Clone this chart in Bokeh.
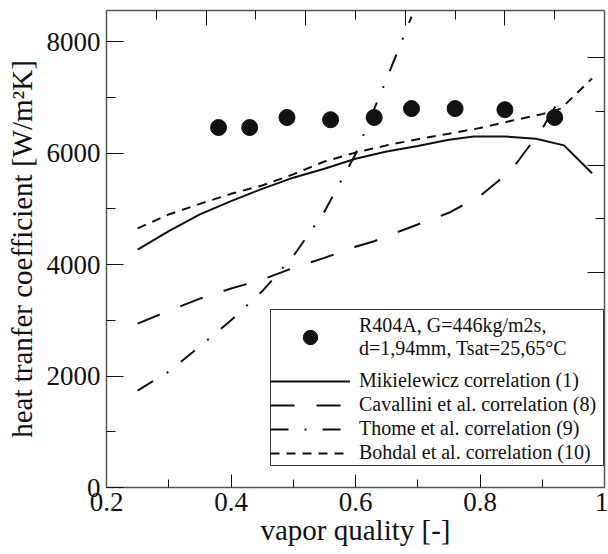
from bokeh.plotting import figure
from bokeh.models import (Range1d, LinearAxis, FixedTicker, CustomJSTickFormatter,
                          Legend, LegendItem, BoxAnnotation)
from bokeh.embed import file_html
from bokeh.resources import INLINE

# ---- data ----
exp_x = [0.38, 0.43, 0.49, 0.56, 0.63, 0.69, 0.76, 0.84, 0.92]
exp_y = [6460, 6460, 6640, 6600, 6640, 6800, 6800, 6780, 6640]

mik_x = [0.25, 0.30, 0.35, 0.40, 0.45, 0.50, 0.55, 0.60, 0.65, 0.70, 0.75, 0.79, 0.84, 0.89, 0.935, 0.98]
mik_y = [4270, 4600, 4900, 5140, 5360, 5560, 5720, 5900, 6030, 6130, 6240, 6300, 6300, 6260, 6140, 5640]

cav_x = [0.25, 0.30, 0.35, 0.40, 0.45, 0.50, 0.55, 0.60, 0.63, 0.65, 0.70, 0.75, 0.80, 0.85, 0.90, 0.935]
cav_y = [2940, 3170, 3390, 3570, 3730, 3940, 4120, 4320, 4420, 4510, 4720, 4930, 5230, 5690, 6440, 7100]

tho_x = [0.25, 0.30, 0.35, 0.40, 0.45, 0.50, 0.55, 0.60, 0.65, 0.69]
tho_y = [1740, 2080, 2530, 3000, 3520, 4150, 4950, 5980, 7330, 8450]

boh_x = [0.25, 0.30, 0.35, 0.40, 0.45, 0.50, 0.55, 0.60, 0.65, 0.70, 0.75, 0.80, 0.85, 0.90, 0.93, 0.98]
boh_y = [4650, 4900, 5090, 5270, 5420, 5620, 5850, 6010, 6140, 6250, 6350, 6450, 6580, 6700, 6800, 7340]

x_major = [0.2, 0.4, 0.6, 0.8, 1.0]
x_minor = [0.3, 0.5, 0.7, 0.9]
y_major = [0, 2000, 4000, 6000, 8000]
y_minor = [1000, 3000, 5000, 7000]
top_major = [0.36, 0.52, 0.68, 0.84]
top_minor = [0.28, 0.44, 0.60, 0.76, 0.92]
right_major = [1928, 3856, 5784, 7712]
right_minor = [964, 2892, 4820, 6748]

exp_label = "R404A, G=446kg/m2s,\nd=1,94mm, Tsat=25,65°C"
labels = ["Mikielewicz correlation (1)", "Cavallini et al. correlation (8)",
          "Thome et al. correlation (9)", "Bohdal et al. correlation (10)"]

FONT = "Liberation Serif"
INK = "#111111"
AXC = "#555555"

p = figure(width=608, height=554, output_backend="svg", toolbar_location=None,
           x_range=Range1d(0.2, 1.0), y_range=Range1d(0, 8560),
           min_border_left=106, min_border_right=4, min_border_top=10, min_border_bottom=67)
p.outline_line_color = None
p.xgrid.visible = False
p.ygrid.visible = False
p.background_fill_color = "white"


def style_axis(ax, tin, mtin, labels_on=True):
    ax.axis_line_color = AXC
    ax.axis_line_width = 1.5
    ax.major_tick_in = tin
    ax.major_tick_out = 0
    ax.minor_tick_in = mtin
    ax.minor_tick_out = 0
    ax.major_tick_line_color = INK
    ax.minor_tick_line_color = INK
    ax.major_tick_line_width = 1
    ax.minor_tick_line_width = 1
    if labels_on:
        ax.major_label_text_font = FONT
        ax.major_label_text_font_size = "27px"
        ax.major_label_text_color = INK
        ax.axis_label_text_font = FONT
        ax.axis_label_text_font_size = "29px"
        ax.axis_label_text_font_style = "normal"
        ax.axis_label_text_color = INK
    else:
        ax.formatter = CustomJSTickFormatter(code="return ''")
        ax.major_label_text_font_size = "1px"
        ax.major_label_standoff = 0


xa = p.xaxis[0]
xa.ticker = FixedTicker(ticks=x_major, minor_ticks=x_minor)
xa.axis_label = "vapor quality [-]"
style_axis(xa, 13, 8)
xa.major_label_standoff = 5
xa.axis_label_standoff = 0

ya = p.yaxis[0]
ya.ticker = FixedTicker(ticks=y_major, minor_ticks=y_minor)
ya.axis_label = "heat tranfer coefficient [W/m²K]"
style_axis(ya, 17, 9)
ya.major_label_standoff = 6
ya.axis_label_standoff = 6

top = LinearAxis(ticker=FixedTicker(ticks=top_major, minor_ticks=top_minor))
style_axis(top, 15, 9, labels_on=False)
p.add_layout(top, "above")

right = LinearAxis(ticker=FixedTicker(ticks=right_major, minor_ticks=right_minor))
style_axis(right, 17, 9, labels_on=False)
p.add_layout(right, "right")

r_mik = p.line(mik_x, mik_y, line_color=INK, line_width=2)
r_cav = p.line(cav_x, cav_y, line_color=INK, line_width=2, line_dash="24 22")
r_tho = p.line(tho_x, tho_y, line_color=INK, line_width=2, line_dash="18 16 2 16")
r_boh = p.line(boh_x, boh_y, line_color=INK, line_width=2, line_dash="9 7")
r_exp = p.scatter(exp_x, exp_y, marker="circle", size=16, fill_color=INK, line_color=INK)

box = BoxAnnotation(left=164, right=497, bottom=22, top=178,
                    left_units="screen", right_units="screen",
                    bottom_units="screen", top_units="screen",
                    fill_color="white", fill_alpha=1.0,
                    line_color="#333333", line_width=1, line_alpha=1.0)
p.add_layout(box)

common = dict(glyph_width=80, label_height=20, padding=0, margin=0,
              label_standoff=9, border_line_color=None, background_fill_alpha=0,
              label_text_font=FONT, label_text_font_size="20px",
              label_text_font_style="normal", label_text_color=INK)

leg_exp = Legend(items=[LegendItem(label=exp_label, renderers=[r_exp])],
                 location=(164, 127), glyph_height=36, spacing=0,
                 label_text_line_height=1.1, **common)
leg_lines = Legend(items=[LegendItem(label=lab, renderers=[r]) for lab, r in
                          zip(labels, [r_mik, r_cav, r_tho, r_boh])],
                   location=(164, 23), glyph_height=20, spacing=1, **common)
p.add_layout(leg_exp)
p.add_layout(leg_lines)

open("out.html", "w").write(file_html(p, INLINE))
